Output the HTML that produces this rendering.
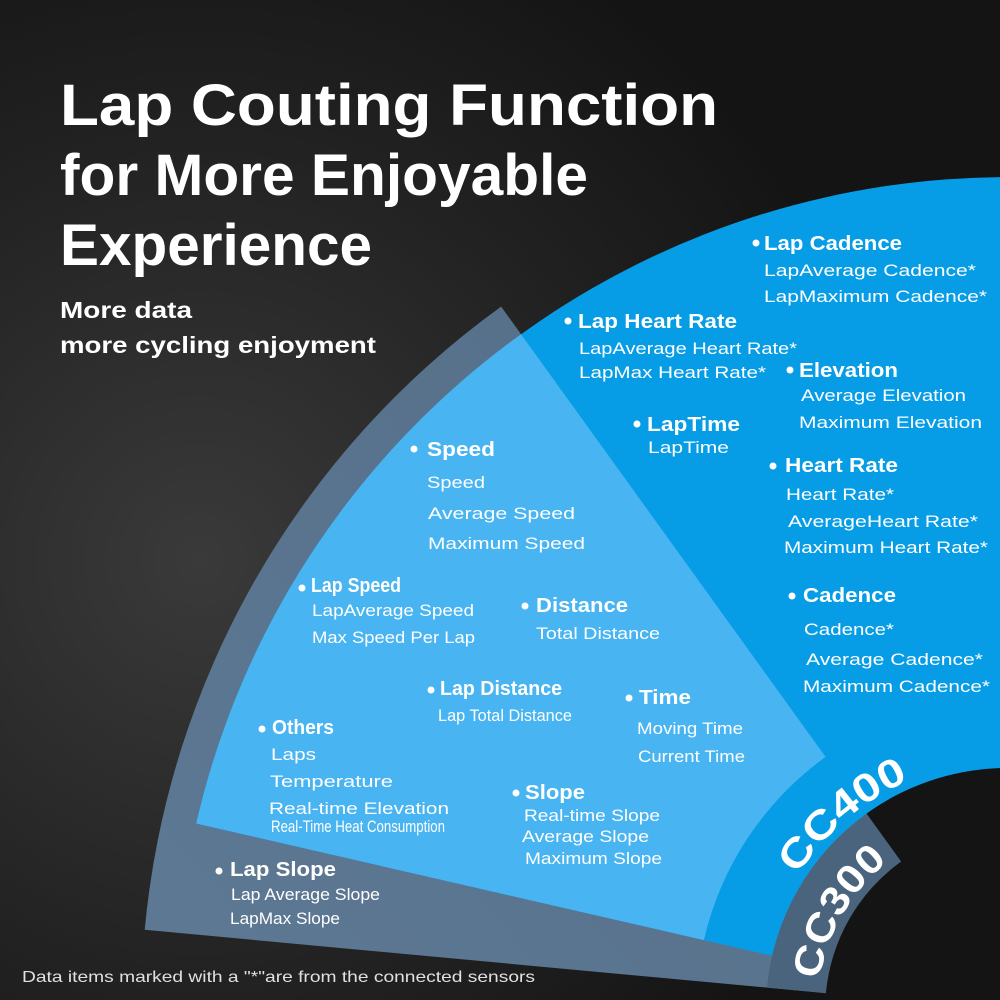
<!DOCTYPE html>
<html><head><meta charset="utf-8"><style>
html,body{margin:0;padding:0;background:#1a1a1a;}
svg{display:block;}
text{font-family:"Liberation Sans",sans-serif;fill:#fff;}
.h{font-weight:bold;font-size:20px;}
.s{font-size:17px;}
</style></head><body>
<svg width="1000" height="1000" viewBox="0 0 1000 1000" xmlns="http://www.w3.org/2000/svg">
<defs>
<radialGradient id="bg" cx="200" cy="560" r="700" gradientUnits="userSpaceOnUse">
<stop offset="0" stop-color="#3a3a3a"/><stop offset="0.6" stop-color="#222"/><stop offset="1" stop-color="#141414"/>
</radialGradient>
<linearGradient id="gr" x1="150" y1="900" x2="700" y2="400" gradientUnits="userSpaceOnUse">
<stop offset="0" stop-color="#5d7893"/><stop offset="1" stop-color="#56708a"/>
</linearGradient>
<path id="p400" d="M 797.7 875.1 A 250 250 0 0 1 909.5 780.2"/>
<path id="p300" d="M 819.4 980 A 191 191 0 0 1 888.8 860.8"/>
</defs>
<rect width="1000" height="1000" fill="url(#bg)"/>
<!-- grey wedge -->
<path d="M 501.1 306.6 A 867 867 0 0 0 144.7 929.8 L 825.8 993.1 A 183 183 0 0 1 901 861.5 Z" fill="url(#gr)"/>
<path d="M 866.5 813.7 A 242 242 0 0 0 767 987.6 L 825.8 993.1 A 183 183 0 0 1 901 861.5 Z" fill="#4a647e"/>
<!-- blue -->
<path d="M 196.2 823.5 A 833 833 0 0 1 1729.4 593.5 L 1217.6 889 A 242 242 0 0 0 772.1 955.8 Z" fill="#069de6"/>
<!-- light blue -->
<path d="M 196.2 823.5 A 833 833 0 0 1 521 334.2 L 825.6 756.9 A 312 312 0 0 0 703.9 940.1 Z" fill="#48b4f1"/>

<!-- title -->
<text x="60" y="125" font-size="58" font-weight="bold" textLength="658" lengthAdjust="spacingAndGlyphs">Lap Couting Function</text>
<text x="60" y="195" font-size="58" font-weight="bold" textLength="528" lengthAdjust="spacingAndGlyphs">for More Enjoyable</text>
<text x="60" y="265" font-size="58" font-weight="bold" textLength="312" lengthAdjust="spacingAndGlyphs">Experience</text>
<text x="60" y="318" font-size="23" font-weight="bold" textLength="132" lengthAdjust="spacingAndGlyphs">More data</text>
<text x="60" y="353" font-size="23" font-weight="bold" textLength="316" lengthAdjust="spacingAndGlyphs">more cycling enjoyment</text>

<g fill="#fff">
<circle cx="756" cy="243" r="3.5"/><circle cx="568" cy="321" r="3.5"/><circle cx="790" cy="370" r="3.5"/>
<circle cx="637" cy="424" r="3.5"/><circle cx="773" cy="466" r="3.5"/><circle cx="792" cy="596" r="3.5"/>
<circle cx="414" cy="449" r="3.5"/><circle cx="302" cy="588" r="3.5"/><circle cx="525" cy="606" r="3.5"/>
<circle cx="431" cy="690" r="3.5"/><circle cx="629" cy="698" r="3.5"/><circle cx="262" cy="729" r="3.5"/>
<circle cx="516" cy="793" r="3.5"/><circle cx="219" cy="871" r="3.5"/>
</g>

<text class="h" x="764" y="250" textLength="138" lengthAdjust="spacingAndGlyphs">Lap Cadence</text>
<text class="s" x="764" y="276" textLength="212" lengthAdjust="spacingAndGlyphs">LapAverage Cadence*</text>
<text class="s" x="764" y="302" textLength="223" lengthAdjust="spacingAndGlyphs">LapMaximum Cadence*</text>

<text class="h" x="578" y="328" textLength="159" lengthAdjust="spacingAndGlyphs">Lap Heart Rate</text>
<text class="s" x="579" y="354" textLength="218" lengthAdjust="spacingAndGlyphs">LapAverage Heart Rate*</text>
<text class="s" x="579" y="378" textLength="187" lengthAdjust="spacingAndGlyphs">LapMax Heart Rate*</text>

<text class="h" x="799" y="377" textLength="99" lengthAdjust="spacingAndGlyphs">Elevation</text>
<text class="s" x="801" y="401" textLength="165" lengthAdjust="spacingAndGlyphs">Average Elevation</text>
<text class="s" x="799" y="428" textLength="183" lengthAdjust="spacingAndGlyphs">Maximum Elevation</text>

<text class="h" x="647" y="431" textLength="93" lengthAdjust="spacingAndGlyphs">LapTime</text>
<text class="s" x="648" y="453" textLength="81" lengthAdjust="spacingAndGlyphs">LapTime</text>

<text class="h" x="785" y="472" textLength="113" lengthAdjust="spacingAndGlyphs">Heart Rate</text>
<text class="s" x="786" y="500" textLength="108" lengthAdjust="spacingAndGlyphs">Heart Rate*</text>
<text class="s" x="788" y="527" textLength="190" lengthAdjust="spacingAndGlyphs">AverageHeart Rate*</text>
<text class="s" x="784" y="553" textLength="204" lengthAdjust="spacingAndGlyphs">Maximum Heart Rate*</text>

<text class="h" x="803" y="602" textLength="93" lengthAdjust="spacingAndGlyphs">Cadence</text>
<text class="s" x="804" y="635" textLength="90" lengthAdjust="spacingAndGlyphs">Cadence*</text>
<text class="s" x="806" y="665" textLength="177" lengthAdjust="spacingAndGlyphs">Average Cadence*</text>
<text class="s" x="803" y="692" textLength="187" lengthAdjust="spacingAndGlyphs">Maximum Cadence*</text>

<text class="h" x="427" y="456" textLength="68" lengthAdjust="spacingAndGlyphs">Speed</text>
<text class="s" x="427" y="488" textLength="58" lengthAdjust="spacingAndGlyphs">Speed</text>
<text class="s" x="428" y="519" textLength="147" lengthAdjust="spacingAndGlyphs">Average Speed</text>
<text class="s" x="428" y="549" textLength="157" lengthAdjust="spacingAndGlyphs">Maximum Speed</text>

<text class="h" x="311" y="592" font-size="16" textLength="90" lengthAdjust="spacingAndGlyphs">Lap Speed</text>
<text class="s" x="312" y="616" textLength="162" lengthAdjust="spacingAndGlyphs">LapAverage Speed</text>
<text class="s" x="312" y="643" textLength="163" lengthAdjust="spacingAndGlyphs">Max Speed Per Lap</text>

<text class="h" x="536" y="612" textLength="92" lengthAdjust="spacingAndGlyphs">Distance</text>
<text class="s" x="536" y="639" textLength="124" lengthAdjust="spacingAndGlyphs">Total Distance</text>

<text class="h" x="440" y="695" font-size="18" textLength="122" lengthAdjust="spacingAndGlyphs">Lap Distance</text>
<text class="s" x="438" y="721" font-size="14" textLength="134" lengthAdjust="spacingAndGlyphs">Lap Total Distance</text>

<text class="h" x="639" y="704" textLength="52" lengthAdjust="spacingAndGlyphs">Time</text>
<text class="s" x="637" y="734" textLength="106" lengthAdjust="spacingAndGlyphs">Moving Time</text>
<text class="s" x="638" y="762" textLength="107" lengthAdjust="spacingAndGlyphs">Current Time</text>

<text class="h" x="272" y="734" font-size="17" textLength="62" lengthAdjust="spacingAndGlyphs">Others</text>
<text class="s" x="271" y="760" font-size="19" textLength="45" lengthAdjust="spacingAndGlyphs">Laps</text>
<text class="s" x="270" y="787" font-size="19" textLength="123" lengthAdjust="spacingAndGlyphs">Temperature</text>
<text class="s" x="269" y="814" font-size="19" textLength="180" lengthAdjust="spacingAndGlyphs">Real-time Elevation</text>
<text class="s" x="271" y="832" font-size="12" textLength="174" lengthAdjust="spacingAndGlyphs">Real-Time Heat Consumption</text>

<text class="h" x="525" y="799" textLength="60" lengthAdjust="spacingAndGlyphs">Slope</text>
<text class="s" x="524" y="821" textLength="136" lengthAdjust="spacingAndGlyphs">Real-time Slope</text>
<text class="s" x="522" y="842" textLength="127" lengthAdjust="spacingAndGlyphs">Average Slope</text>
<text class="s" x="525" y="864" textLength="137" lengthAdjust="spacingAndGlyphs">Maximum Slope</text>

<text class="h" x="230" y="876" textLength="106" lengthAdjust="spacingAndGlyphs">Lap Slope</text>
<text class="s" x="231" y="900" font-size="16" textLength="149" lengthAdjust="spacingAndGlyphs">Lap Average Slope</text>
<text class="s" x="230" y="924" font-size="16" textLength="110" lengthAdjust="spacingAndGlyphs">LapMax Slope</text>

<text x="22" y="982" font-size="16" fill="#e0e0e0" style="fill:#e0e0e0" textLength="513" lengthAdjust="spacingAndGlyphs">Data items marked with a "*"are from the connected sensors</text>

<text font-size="40" font-weight="bold"><textPath href="#p400" textLength="148" lengthAdjust="spacingAndGlyphs">CC400</textPath></text>
<text font-size="40" font-weight="bold"><textPath href="#p300" textLength="140" lengthAdjust="spacingAndGlyphs">CC300</textPath></text>
</svg>
</body></html>
